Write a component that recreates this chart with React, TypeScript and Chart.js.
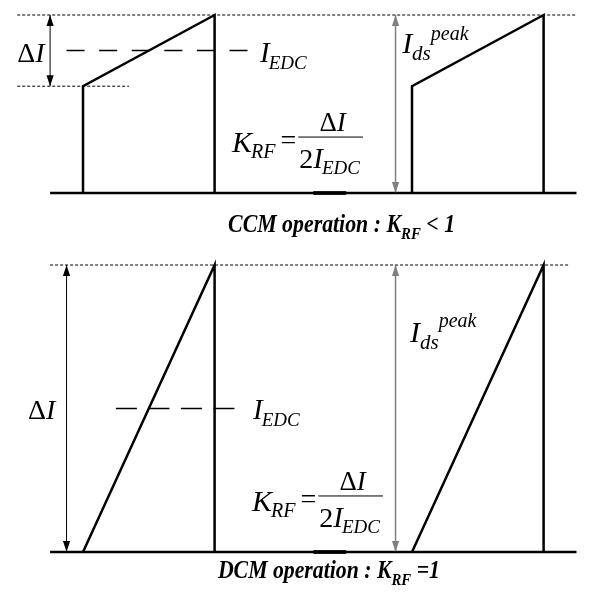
import React, { useEffect, useRef } from "react";
import { Chart, registerables } from "chart.js";
Chart.register(...registerables);

// ---------------- data ----------------
// time is in switching periods (on-time = 0.4 T), current is normalised to the peak
const ccmTime = [0, 0, 0.4, 0.4, 0.7, 1, 1, 1.4, 1.4];
const ccmCurrent: (number | null)[] = [0, 0.6, 1, 0, null, 0, 0.6, 1, 0];
const dcmTime = [0, 0.4, 0.4, 0.7, 1, 1.4, 1.4];
const dcmCurrent: (number | null)[] = [0, 1, 0, null, 0, 1, 0];
const peakCurrent = 1.0;
const ccmValley = 0.6;
const ccmIedc = 0.8;
const dcmIedc = 0.5;
const baselineSpan = [-0.1, 1.5];
const ccmPeakGuide = [-0.2, 1.5];
const ccmValleyGuide = [-0.2, 0.14];
const dcmPeakGuide = [-0.1, 1.48];
const ccmIedcSpan = [-0.05, 0.5];
const dcmIedcSpan = [0.1, 0.465];
const ccmDeltaArrowT = -0.1;
const dcmDeltaArrowT = -0.05;
const peakArrowT = 0.95;
const baselineMarkSpan = [0.7, 0.8];
const ccmTitle = ["CCM operation : K", "RF", " < 1"];
const dcmTitle = ["DCM operation : K", "RF", " =1"];

// ---------------- layout ----------------
const W = 590;
const H = 593;
const X0PX = 83; // pixel of t = 0
const PERIODPX = 329; // pixels per period
const TOP = { zero: 193, peak: 15 };
const BOT = { zero: 552, peak: 265 };
const SERIF = '"Liberation Serif", "Times New Roman", serif';

function yRange(p: { zero: number; peak: number }) {
  const per = p.zero - p.peak;
  return { min: -(H - p.zero) / per, max: p.zero / per };
}

const pts = (ts: number[], vs: (number | null)[]) => ts.map((t, i) => ({ x: t, y: vs[i] }));
const seg = (span: number[], v: number) => [{ x: span[0], y: v }, { x: span[1], y: v }];
const vseg = (t: number, a: number, b: number) => [{ x: t, y: a }, { x: t, y: b }];

function ln(data: any[], axis: string, color: string, width: number, dash: number[] = [], extra: any = {}) {
  return {
    data,
    yAxisID: axis,
    showLine: true,
    borderColor: color,
    backgroundColor: color,
    borderWidth: width,
    borderDash: dash,
    pointRadius: 0,
    pointHoverRadius: 0,
    fill: false,
    spanGaps: false,
    borderCapStyle: "butt",
    borderJoinStyle: "miter",
    tension: 0,
    ...extra,
  };
}

type Run = { s: string; size: number; it?: boolean; b?: boolean; dy?: number; dx?: number };
function font(r: Run) {
  return `${r.it ? "italic " : ""}${r.b ? "bold " : ""}${r.size}px ${SERIF}`;
}
function runsWidth(ctx: CanvasRenderingContext2D, runs: Run[]) {
  let w = 0;
  for (const r of runs) {
    ctx.font = font(r);
    w += (r.dx ?? 0) + ctx.measureText(r.s).width;
  }
  return w;
}
function drawRuns(ctx: CanvasRenderingContext2D, x: number, y: number, runs: Run[]) {
  let cx = x;
  for (const r of runs) {
    ctx.font = font(r);
    cx += r.dx ?? 0;
    ctx.fillText(r.s, cx, y + (r.dy ?? 0));
    cx += ctx.measureText(r.s).width;
  }
  return cx;
}

const deltaI = (size: number): Run[] => [
  { s: "Δ", size },
  { s: "I", size, it: true },
];
const iEdc = (size: number, sub: number, dy: number): Run[] => [
  { s: "I", size, it: true },
  { s: "EDC", size: sub, it: true, dy, dx: -1 },
];

type Label = { axis: string; t: number; v: number; kind: "runs" | "krf" | "title"; runs?: Run[]; width?: number };

const labels: Label[] = [
  { axis: "yTop", t: -0.2, v: 0.736, kind: "runs", runs: deltaI(28) },
  { axis: "yTop", t: 0.538, v: 0.736, kind: "runs", runs: iEdc(29, 19, 7) },
  {
    axis: "yTop", t: 0.97, v: 0.787, kind: "runs",
    runs: [
      { s: "I", size: 30, it: true },
      { s: "ds", size: 21, it: true, dy: 7 },
      { s: "peak", size: 20, it: true, dy: -13 },
    ],
  },
  { axis: "yTop", t: 0.453, v: 0.23, kind: "krf" },
  {
    axis: "yTop", t: 0.441, v: -0.219, kind: "title", width: 0.69,
    runs: [
      { s: ccmTitle[0], size: 25, it: true, b: true },
      { s: ccmTitle[1], size: 17, it: true, b: true, dy: 7 },
      { s: ccmTitle[2], size: 25, it: true, b: true },
    ],
  },
  { axis: "yBot", t: -0.167, v: 0.463, kind: "runs", runs: deltaI(28) },
  { axis: "yBot", t: 0.517, v: 0.463, kind: "runs", runs: iEdc(29, 19, 7) },
  {
    axis: "yBot", t: 0.994, v: 0.732, kind: "runs",
    runs: [
      { s: "I", size: 30, it: true },
      { s: "ds", size: 21, it: true, dy: 7 },
      { s: "peak", size: 20, it: true, dy: -15 },
    ],
  },
  { axis: "yBot", t: 0.514, v: 0.143, kind: "krf" },
  {
    axis: "yBot", t: 0.41, v: -0.0906, kind: "title", width: 0.675,
    runs: [
      { s: dcmTitle[0], size: 25, it: true, b: true },
      { s: dcmTitle[1], size: 17, it: true, b: true, dy: 7 },
      { s: dcmTitle[2], size: 25, it: true, b: true },
    ],
  },
];

function arrowHead(ctx: CanvasRenderingContext2D, tx: number, ty: number, fx: number, fy: number, color: string) {
  const dx = tx - fx, dy = ty - fy;
  const len = Math.hypot(dx, dy) || 1;
  const ux = dx / len, uy = dy / len;
  const L = 11, hw = 3.6;
  const bx = tx - ux * L, by = ty - uy * L;
  ctx.beginPath();
  ctx.moveTo(tx, ty);
  ctx.lineTo(bx - uy * hw, by + ux * hw);
  ctx.lineTo(bx + uy * hw, by - ux * hw);
  ctx.closePath();
  ctx.fillStyle = color;
  ctx.fill();
}

function drawKrf(ctx: CanvasRenderingContext2D, x: number, y: number) {
  let cx = drawRuns(ctx, x, y, [
    { s: "K", size: 30, it: true },
    { s: "RF", size: 20, it: true, dy: 6, dx: -1 },
  ]);
  cx += 5;
  cx = drawRuns(ctx, cx, y - 3, [{ s: "=", size: 28 }]);
  cx += 2;
  const num: Run[] = deltaI(27);
  const den: Run[] = [{ s: "2", size: 28 }, ...iEdc(29, 19, 6)];
  const nw = runsWidth(ctx, num);
  const dw = runsWidth(ctx, den);
  const bw = Math.max(nw, dw) + 4;
  const barY = y - 15;
  ctx.beginPath();
  ctx.moveTo(cx, barY);
  ctx.lineTo(cx + bw, barY);
  ctx.lineWidth = 1;
  ctx.strokeStyle = "#000";
  ctx.stroke();
  drawRuns(ctx, cx + (bw - nw) / 2 + 2, barY - 6, num);
  drawRuns(ctx, cx + (bw - dw) / 2 - 1, barY + 31, den);
}

const annotate = {
  id: "annotate",
  afterDatasetsDraw(chart: any) {
    const ctx: CanvasRenderingContext2D = chart.ctx;
    ctx.save();
    chart.data.datasets.forEach((ds: any, i: number) => {
      if (!ds.arrowHeads) return;
      const d = chart.getDatasetMeta(i).data;
      const a = d[0], b = d[d.length - 1];
      arrowHead(ctx, a.x, a.y, b.x, b.y, ds.borderColor);
      arrowHead(ctx, b.x, b.y, a.x, a.y, ds.borderColor);
    });
    ctx.fillStyle = "#000";
    ctx.textBaseline = "alphabetic";
    ctx.textAlign = "left";
    const xs = chart.scales.x;
    for (const L of labels) {
      const ys = chart.scales[L.axis];
      const px = xs.getPixelForValue(L.t);
      const py = ys.getPixelForValue(L.v);
      ctx.fillStyle = "#000";
      if (L.kind === "runs") drawRuns(ctx, px, py, L.runs!);
      else if (L.kind === "krf") drawKrf(ctx, px, py);
      else {
        const target = xs.getPixelForValue(L.t + L.width!) - px;
        const nat = runsWidth(ctx, L.runs!);
        ctx.save();
        ctx.translate(px, py);
        ctx.scale(target / nat, 1);
        drawRuns(ctx, 0, 0, L.runs!);
        ctx.restore();
      }
    }
    ctx.restore();
  },
};

export default function App() {
  const ref = useRef<HTMLCanvasElement | null>(null);
  useEffect(() => {
    if (!ref.current) return;
    const top = yRange(TOP);
    const bot = yRange(BOT);
    const BLACK = "#000";
    const GREY = "#808080";
    const datasets: any[] = [
      // CCM panel
      ln(seg(ccmPeakGuide, peakCurrent), "yTop", BLACK, 1, [3, 2]),
      ln(seg(ccmValleyGuide, ccmValley), "yTop", BLACK, 1, [3, 2]),
      ln(seg(ccmIedcSpan, ccmIedc), "yTop", BLACK, 1.5, [18, 14.6]),
      ln(seg(baselineSpan, 0), "yTop", BLACK, 2.5),
      ln(seg(baselineMarkSpan, 0), "yTop", "#222", 4),
      ln(pts(ccmTime, ccmCurrent), "yTop", BLACK, 2.5),
      ln(vseg(ccmDeltaArrowT, ccmValley, peakCurrent), "yTop", BLACK, 1, [], { arrowHeads: true }),
      ln(vseg(peakArrowT, 0, peakCurrent), "yTop", GREY, 1.5, [], { arrowHeads: true }),
      // DCM panel
      ln(seg(dcmPeakGuide, peakCurrent), "yBot", BLACK, 1, [3, 2]),
      ln(seg(dcmIedcSpan, dcmIedc), "yBot", BLACK, 1.5, [21, 11.5]),
      ln(seg(baselineSpan, 0), "yBot", BLACK, 2.5),
      ln(seg(baselineMarkSpan, 0), "yBot", "#222", 4),
      ln(pts(dcmTime, dcmCurrent), "yBot", BLACK, 2.5),
      ln(vseg(dcmDeltaArrowT, 0, peakCurrent), "yBot", BLACK, 1, [], { arrowHeads: true }),
      ln(vseg(peakArrowT, 0, peakCurrent), "yBot", GREY, 1.5, [], { arrowHeads: true }),
    ];
    const chart = new Chart(ref.current, {
      type: "scatter",
      data: { datasets },
      options: {
        animation: false,
        responsive: false,
        devicePixelRatio: 1,
        events: [],
        layout: { padding: 0 },
        plugins: { legend: { display: false }, tooltip: { enabled: false }, title: { display: false } },
        scales: {
          x: { type: "linear", display: false, min: -X0PX / PERIODPX, max: (W - X0PX) / PERIODPX },
          yTop: { type: "linear", display: false, position: "left", min: top.min, max: top.max },
          yBot: { type: "linear", display: false, position: "left", min: bot.min, max: bot.max },
        },
      } as any,
      plugins: [annotate],
    });
    return () => chart.destroy();
  }, []);
  return (
    <div style={{ position: "absolute", left: 0, top: 0, width: W, height: H, background: "#fff" }}>
      <canvas ref={ref} width={W} height={H} style={{ display: "block" }} />
    </div>
  );
}
